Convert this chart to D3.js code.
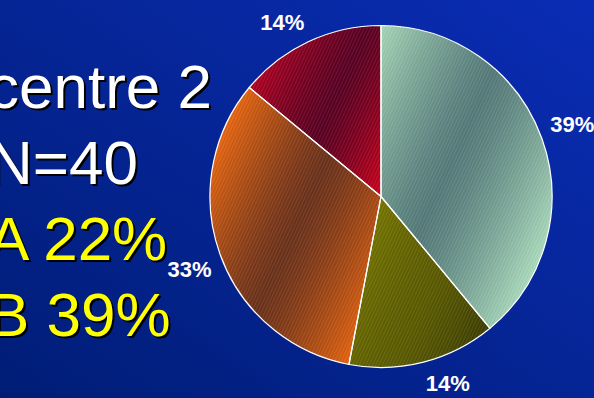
<!DOCTYPE html>
<html>
<head>
<meta charset="utf-8">
<script src="https://cdn.jsdelivr.net/npm/d3@7"></script>
<style>
  html, body { margin: 0; padding: 0; background: #00207e; overflow: hidden; }
  svg { display: block; }
</style>
</head>
<body>
<svg id="chart" width="594" height="398"></svg>
<script>
// Slice shares, clockwise from 12 o'clock
const sliceNames = ["s1", "s2", "s3", "s4"];
const sliceValues = [39, 14, 33, 14];
const sliceLabels = ["39%", "14%", "33%", "14%"];

// Summary lines beside the pie
const headerLines = ["centre 2", "N=40"];
const groupLines = ["A 22%", "B 39%"];

const W = 594, H = 398;
const cx = 381, cy = 196.5, R = 171, labelR = 180;

// gradient colours per slice: [start, middle, end]
const palette = [
  ["#a8d8b9", "#547a7a", "#abdcbd"],
  ["#767600", "#5c5c00", "#3c3c02"],
  ["#e8650f", "#6a311a", "#e6630e"],
  ["#b20020", "#590022", "#d0001b"]
];

const svg = d3.select("#chart");
const defs = svg.append("defs");

// background
const bg = defs.append("linearGradient").attr("id", "bg")
  .attr("x1", 1).attr("y1", 0).attr("x2", 0).attr("y2", 1);
bg.append("stop").attr("offset", 0).attr("stop-color", "#0a2cb4");
bg.append("stop").attr("offset", 1).attr("stop-color", "#001d76");
svg.append("rect").attr("width", W).attr("height", H).attr("fill", "url(#bg)");

// fine diagonal hatching laid over every slice
const hatch = defs.append("pattern").attr("id", "hatch")
  .attr("patternUnits", "userSpaceOnUse")
  .attr("width", 3).attr("height", 12)
  .attr("patternTransform", "rotate(25)");
hatch.append("rect").attr("x", 0).attr("width", 1).attr("height", 12)
  .attr("fill", "#ffffff").attr("opacity", 0.09);
hatch.append("rect").attr("x", 1.5).attr("width", 1).attr("height", 12)
  .attr("fill", "#000000").attr("opacity", 0.05);

// text with a hard drop shadow
function shadowText(g, str, x, y, size, fill, weight) {
  g.append("text").attr("x", x + 2).attr("y", y + 2).text(str)
    .attr("font-size", size).attr("font-weight", weight).attr("fill", "#000");
  g.append("text").attr("x", x).attr("y", y).text(str)
    .attr("font-size", size).attr("font-weight", weight).attr("fill", fill);
}

const txt = svg.append("g").attr("font-family", "'Liberation Sans', Arial, sans-serif");
const lineY = d3.scalePoint().domain(d3.range(4)).range([108, 336]);
headerLines.forEach((s, i) => shadowText(txt, s, -12, lineY(i), 62, "#ffffff", "normal"));
groupLines.forEach((s, i) => shadowText(txt, s, -12, lineY(i + 2), 62, "#ffff00", "normal"));

// pie
const pie = d3.pie().sort(null).value(d => d)
  .startAngle(0).endAngle(2 * Math.PI);
const arcs = pie(sliceValues);
const arc = d3.arc().innerRadius(0).outerRadius(R);

// gradient axis runs across the hatching direction
const gdx = Math.cos(25 * Math.PI / 180), gdy = Math.sin(25 * Math.PI / 180);

const g = svg.append("g").attr("transform", `translate(${cx},${cy})`);

arcs.forEach((a, i) => {
  // extent of the slice along the gradient axis, sampled along its outline
  const pts = [[0, 0]];
  for (let k = 0; k <= 40; k++) {
    const t = a.startAngle + (a.endAngle - a.startAngle) * k / 40;
    pts.push([R * Math.sin(t), -R * Math.cos(t)]);
  }
  const proj = pts.map(p => p[0] * gdx + p[1] * gdy);
  const pmin = d3.min(proj), pmax = d3.max(proj);
  const grad = defs.append("linearGradient").attr("id", "grad-" + sliceNames[i])
    .attr("gradientUnits", "userSpaceOnUse")
    .attr("x1", pmin * gdx).attr("y1", pmin * gdy)
    .attr("x2", pmax * gdx).attr("y2", pmax * gdy);
  // light edges easing into a dark middle band
  const [c0, cm, c1] = palette[i];
  d3.range(0, 1.0001, 0.1).forEach(t => {
    const side = t < 0.5 ? d3.interpolateRgb(c0, cm) : d3.interpolateRgb(c1, cm);
    const w = 1 - Math.pow(Math.abs(2 * t - 1), 1.3);
    grad.append("stop").attr("offset", t).attr("stop-color", side(w));
  });

  g.append("path").attr("d", arc(a)).attr("fill", `url(#grad-${sliceNames[i]})`);
  g.append("path").attr("d", arc(a)).attr("fill", "url(#hatch)");
});

g.selectAll("path.edge").data(arcs).join("path").attr("class", "edge")
  .attr("d", arc).attr("fill", "none")
  .attr("stroke", "#ffffff").attr("stroke-width", 1.2).attr("stroke-linejoin", "round");

// value labels: the corner of each label box nearest the pie sits on a ring just outside the rim
const ringPoint = d => {
  const m = (d.startAngle + d.endAngle) / 2;
  return [labelR * Math.sin(m), -labelR * Math.cos(m)];
};
g.selectAll("text.lbl").data(arcs).join("text").attr("class", "lbl")
  .attr("x", d => ringPoint(d)[0])
  .attr("y", d => { const p = ringPoint(d); return p[1] > 0 ? p[1] + 20 : p[1] - 4; })
  .attr("text-anchor", d => ringPoint(d)[0] >= 0 ? "start" : "end")
  .attr("font-family", "'Liberation Sans', Arial, sans-serif")
  .attr("font-weight", "bold").attr("font-size", 22)
  .attr("fill", "#ffffff")
  .text((d, i) => sliceLabels[i]);
</script>
</body>
</html>
